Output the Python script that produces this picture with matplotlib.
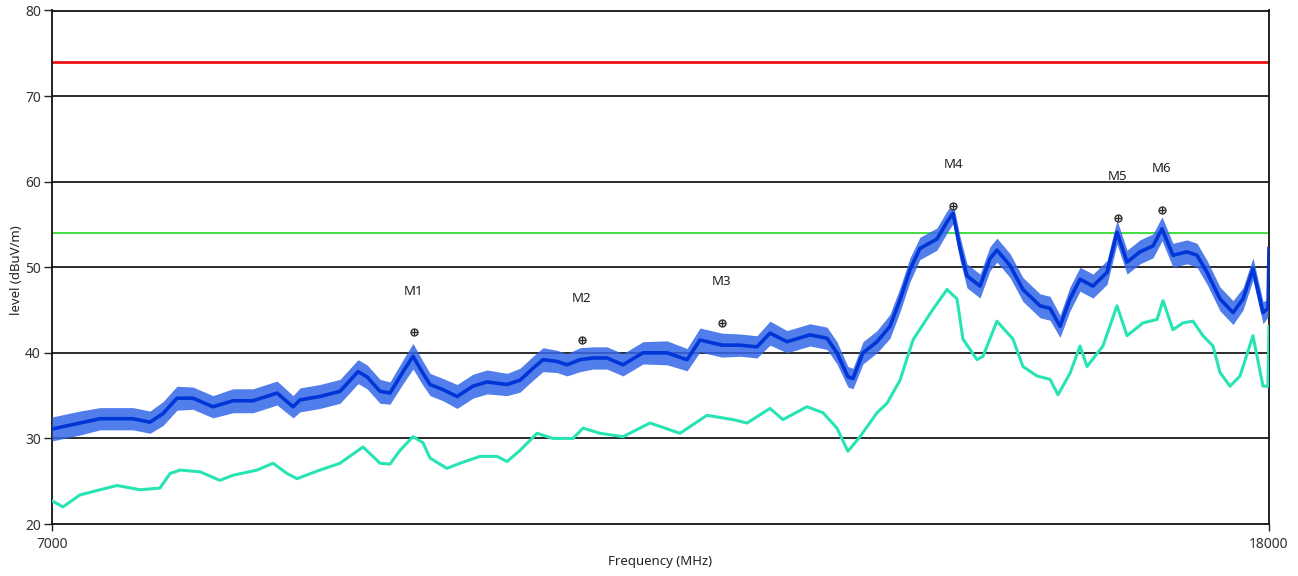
import numpy as np
import matplotlib
matplotlib.use("Agg")
import matplotlib.pyplot as plt

plt.rcParams['font.family'] = ['Noto Sans', 'DejaVu Sans']

# -----------------------------
# Scan data (MHz, dBuV/m)
# -----------------------------
peak_freq = [7000, 7253, 7434, 7732, 7886, 8003, 8130, 8274, 8455, 8636,
             8817, 9034, 9179, 9242, 9422, 9603, 9766, 9847, 9965, 10055,
             10173, 10263, 10353, 10417, 10534, 10661, 10805, 10932, 11113, 11230,
             11348, 11438, 11564, 11655, 11772, 11890, 12016, 12161, 12342, 12559,
             12740, 12857, 13056, 13219, 13372, 13490, 13643, 13851, 14005, 14095,
             14194, 14240, 14330, 14457, 14574, 14665, 14755, 14845, 14999, 15090,
             15144, 15207, 15270, 15388, 15478, 15541, 15659, 15776, 15930, 16021,
             16111, 16201, 16292, 16409, 16536, 16626, 16717, 16834, 16952, 17033,
             17132, 17259, 17349, 17440, 17557, 17675, 17765, 17855, 17946, 17991,
             18000]
peak_level = [31.1, 31.8, 32.3, 32.3, 31.9, 32.9, 34.7, 34.7, 33.7, 34.4,
              34.4, 35.3, 33.7, 34.5, 34.9, 35.5, 37.8, 37.2, 35.5, 35.3,
              37.8, 39.6, 37.6, 36.3, 35.7, 34.9, 36.1, 36.6, 36.3, 36.8,
              38.2, 39.2, 39.0, 38.6, 39.2, 39.4, 39.4, 38.6, 40.0, 40.0,
              39.2, 41.5, 40.9, 40.9, 40.7, 42.3, 41.3, 42.1, 41.7, 40.0,
              37.2, 37.0, 40.0, 41.3, 43.1, 46.2, 49.7, 52.2, 53.3, 55.3,
              56.3, 52.2, 49.0, 47.8, 51.0, 52.0, 50.2, 47.4, 45.5, 45.2,
              43.1, 46.3, 48.6, 47.8, 49.4, 54.1, 50.6, 51.8, 52.5, 54.5,
              51.4, 51.8, 51.4, 49.4, 46.3, 44.7, 46.3, 49.8, 44.7, 45.2,
              52.2]
# half-width of the peak detector noise band
peak_spread = [1.4, 1.4, 1.3, 1.3, 1.3, 1.4, 1.4, 1.3, 1.3, 1.4,
               1.4, 1.4, 1.3, 1.4, 1.4, 1.4, 1.4, 1.4, 1.4, 1.3,
               1.4, 1.5, 1.4, 1.3, 1.3, 1.4, 1.4, 1.4, 1.3, 1.4,
               1.4, 1.4, 1.3, 1.3, 1.4, 1.3, 1.3, 1.3, 1.3, 1.4,
               1.3, 1.4, 1.4, 1.3, 1.3, 1.4, 1.3, 1.3, 1.3, 1.3,
               1.2, 1.2, 1.3, 1.3, 1.4, 1.4, 1.4, 1.3, 1.3, 1.3,
               1.2, 1.4, 1.4, 1.4, 1.4, 1.4, 1.4, 1.4, 1.4, 1.4,
               1.3, 1.4, 1.4, 1.4, 1.4, 1.4, 1.4, 1.4, 1.4, 1.4,
               1.4, 1.4, 1.4, 1.4, 1.4, 1.4, 1.3, 1.3, 1.3, 1.0,
               0.5]

avg_freq = [7000, 7099, 7253, 7434, 7588, 7795, 7976, 8067, 8157, 8338,
            8518, 8636, 8853, 8998, 9124, 9214, 9422, 9603, 9811, 9965,
            10055, 10145, 10263, 10353, 10417, 10570, 10688, 10868, 11022, 11113,
            11230, 11384, 11528, 11709, 11800, 11953, 12161, 12405, 12676, 12920,
            13155, 13282, 13490, 13607, 13824, 13969, 14095, 14194, 14303, 14457,
            14547, 14665, 14782, 14963, 15090, 15180, 15234, 15361, 15415, 15541,
            15686, 15776, 15903, 16021, 16093, 16201, 16292, 16355, 16499, 16626,
            16717, 16861, 16988, 17042, 17132, 17222, 17313, 17403, 17494, 17557,
            17648, 17738, 17855, 17946, 17991, 18000]
avg_level = [22.7, 22.0, 23.4, 24.0, 24.5, 24.0, 24.2, 25.9, 26.3, 26.1,
             25.1, 25.7, 26.3, 27.1, 25.9, 25.3, 26.3, 27.1, 29.0, 27.1,
             27.0, 28.6, 30.2, 29.5, 27.7, 26.5, 27.1, 27.9, 27.9, 27.3,
             28.6, 30.6, 30.0, 30.0, 31.2, 30.6, 30.2, 31.8, 30.6, 32.7,
             32.2, 31.8, 33.5, 32.2, 33.7, 33.0, 31.2, 28.5, 30.2, 33.0,
             34.1, 36.8, 41.5, 45.1, 47.4, 46.3, 41.6, 39.2, 39.6, 43.7,
             41.6, 38.4, 37.3, 36.9, 35.1, 37.6, 40.8, 38.4, 40.8, 45.5,
             42.0, 43.5, 43.9, 46.1, 42.7, 43.5, 43.7, 42.0, 40.8, 37.7,
             36.1, 37.3, 42.0, 36.1, 36.1, 43.1]

# markers
mk_names = ['M1', 'M2', 'M3', 'M4', 'M5', 'M6']
mk_freq = [10272, 11790, 13056, 15144, 16635, 17033]
mk_level = [42.4, 41.5, 43.5, 57.2, 55.8, 56.7]

# limit lines
limit_peak = 74
limit_avg = 54

fig = plt.figure(figsize=(12.98, 5.76), dpi=100)
ax = fig.add_axes([52 / 1298, 1 - 524 / 576, 1217 / 1298, 513.5 / 576])

ax.set_xlim(7000, 18000)
ax.set_ylim(20, 80)

for y in [30, 40, 50, 60, 70]:
    ax.axhline(y, color='#1a1a1a', linewidth=1.3, zorder=1)
ax.axhline(limit_peak, color='#ee1111', linewidth=2.0, zorder=2)
ax.axhline(limit_avg, color='#33dd33', linewidth=1.3, zorder=2)

lo = np.array(peak_level) - np.array(peak_spread)
hi = np.array(peak_level) + np.array(peak_spread)
ax.fill_between(peak_freq, lo, hi, color='#3467e8', alpha=0.85, linewidth=0, zorder=3)
ax.plot(peak_freq, peak_level, color='#0036d8', linewidth=2.6, zorder=4)

ax.plot(avg_freq, avg_level, color='#28e4b4', linewidth=2.2, zorder=3)

ax.plot(mk_freq, mk_level, 'o', markersize=5, mfc='#dddddd', mec='#333333', mew=1.0, zorder=6)
ax.plot(mk_freq, mk_level, '+', markersize=4, color='#222222', mew=0.8, zorder=7)
for name, f, lv in zip(mk_names, mk_freq, mk_level):
    ax.annotate(name, (f, lv), xytext=(0, 41), textcoords='offset pixels',
                ha='center', va='center', fontsize=9.5, color='#222222')

ax.set_xticks([7000, 18000])
ax.set_yticks([20, 30, 40, 50, 60, 70, 80])
ax.tick_params(axis='y', direction='out', length=6, width=1, colors='#222222',
               labelsize=10, labelcolor='#333333', pad=2)
ax.tick_params(axis='x', direction='out', length=5, width=1, colors='#222222',
               labelsize=10, labelcolor='#333333', pad=4)
for s in ax.spines.values():
    s.set_color('#111111')
    s.set_linewidth(1.3)

ax.set_xlabel('Frequency (MHz)', fontsize=9.5, color='#222222')
ax.xaxis.label.set_verticalalignment('center')
ax.xaxis.set_label_coords(0.5, -0.074)
ax.set_ylabel('level (dBuV/m)', fontsize=9.5, color='#222222')
ax.yaxis.label.set_verticalalignment('center')
ax.yaxis.set_label_coords(-0.029, 0.495)

fig.savefig('out.png', dpi=100)
